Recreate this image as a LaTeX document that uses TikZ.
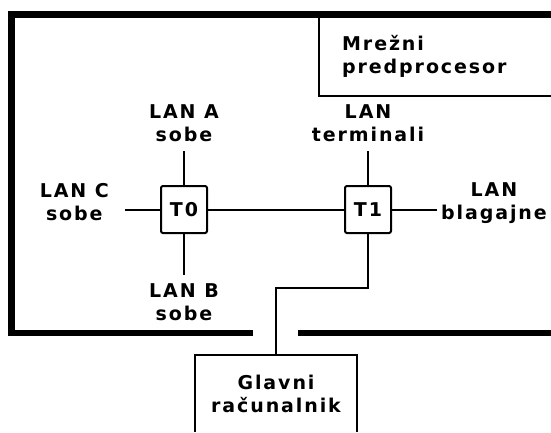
\documentclass[tikz,border=0pt]{standalone}
\usepackage{fontspec}
\newfontfamily\plotfont[LetterSpace=10]{DejaVu Sans}
\usetikzlibrary{positioning}

\begin{document}
\begin{tikzpicture}[
    x=1pt, y=-1pt,
    font=\plotfont\bfseries\fontsize{19}{23}\selectfont,
    term/.style={draw, line width=2pt, rounded corners=2pt, minimum width=46pt, minimum height=47pt, inner sep=0pt},
    lbl/.style={align=center, inner sep=0pt},
    wire/.style={line width=2pt},
    wall/.style={line width=6.5pt},
    thinwall/.style={line width=1.4pt}
]
    \useasboundingbox (0,0) rectangle (551,432);

    % Outer wall of the building
    \draw[wall] (253,333) -- (11.5,333) -- (11.5,14.5) -- (551,14.5);
    \draw[wall] (298,333) -- (551,333);

    % Network preprocessor
    \draw[thinwall] (319,14.5) |- (551,96);
    \node[lbl, align=left, anchor=north west] (pre) at (342,35.5) {Mrežni\\predprocesor};

    % Nodes T0 and T1
    \node[term] (t0) at (184,209.5) {T0};
    \node[term, right=136pt of t0] (t1) {T1};

    % LAN labels
    \node[lbl, above=43pt of t0] (lana) {LAN A\\sobe};
    \node[lbl, below=49pt of t0] (lanb) {LAN B\\sobe};
    \node[lbl, left=51pt of t0, yshift=7pt] (lanc) {LAN C\\sobe};
    \node[lbl, above=43pt of t1] (lant) {LAN\\terminali};
    \node[lbl, right=49pt of t1, yshift=6pt] (lanbl) {LAN\\blagajne};

    % Main computer
    \node[lbl, minimum width=162pt, minimum height=77pt] (host) at (276,393.5) {Glavni\\računalnik};

    % Connections
    \draw[wire, shorten <=9pt] (lana) -- (t0);
    \draw[wire, shorten >=8pt] (t0) -- (lanb);
    \draw[wire, shorten >=16pt] (t0) -- (t0 -| lanc.east);
    \draw[wire] (t0) -- (t1);
    \draw[wire, shorten <=9pt] (lant) -- (t1);
    \draw[wire, shorten >=4pt] (t1) -- (t1 -| lanbl.west);
    \draw[wire] (t1.south) -- ++(0,54) -| (host.north);
    \draw[wire] (host.south west) |- (host.north) -| (host.south east);
\end{tikzpicture}
\end{document}
